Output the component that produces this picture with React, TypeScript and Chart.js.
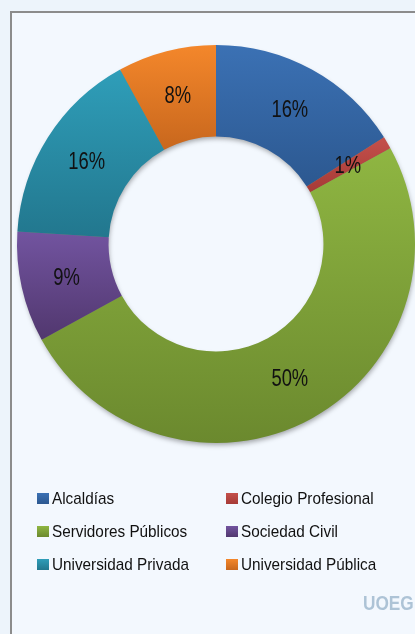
import React, { useEffect, useRef } from "react";
import { Chart, registerables } from "chart.js";

Chart.register(...registerables);

const categories = [
  "Alcaldías",
  "Colegio Profesional",
  "Servidores Públicos",
  "Sociedad Civil",
  "Universidad Privada",
  "Universidad Pública",
];
const shares = [16, 1, 50, 9, 16, 8];
const topColors = ["#3B71B4", "#C4504B", "#8FB642", "#7254A0", "#2F9EB9", "#F4872B"];
const bottomColors = ["#2C5890", "#A63A36", "#6B892E", "#51376E", "#22778E", "#C8671D"];

const W = 415;
const H = 634;
const CUT = 0.54;

function sliceBounds(chart: any, i: number) {
  const a = chart.chartArea;
  const cx = (a.left + a.right) / 2;
  const cy = (a.top + a.bottom) / 2;
  const r = Math.min(a.right - a.left, a.bottom - a.top) / 2;
  const total = shares.reduce((s, v) => s + v, 0);
  let start = 0;
  for (let k = 0; k < i; k++) start += shares[k];
  const s = (start / total) * Math.PI * 2 - Math.PI / 2;
  const e = ((start + shares[i]) / total) * Math.PI * 2 - Math.PI / 2;
  let minY = Infinity;
  let maxY = -Infinity;
  for (let t = 0; t <= 60; t++) {
    const ang = s + ((e - s) * t) / 60;
    for (const rr of [r, r * CUT]) {
      const y = cy + rr * Math.sin(ang);
      minY = Math.min(minY, y);
      maxY = Math.max(maxY, y);
    }
  }
  return { minY, maxY };
}

function sliceFill(chart: any, i: number) {
  if (!chart.chartArea) return topColors[i];
  const { minY, maxY } = sliceBounds(chart, i);
  const g = chart.ctx.createLinearGradient(0, minY, 0, maxY + 0.01);
  g.addColorStop(0, topColors[i]);
  g.addColorStop(1, bottomColors[i]);
  return g;
}

function narrowText(ctx: any, text: string, x: number, y: number, sx: number) {
  ctx.save();
  ctx.translate(x, y);
  ctx.scale(sx, 1);
  ctx.fillText(text, 0, 0);
  ctx.restore();
}

const framePlugin = {
  id: "frame",
  beforeDraw(chart: any) {
    const ctx = chart.ctx;
    ctx.save();
    ctx.fillStyle = "#EDF4FB";
    ctx.fillRect(0, 0, W, H);
    ctx.fillStyle = "#F3F8FE";
    ctx.fillRect(11, 12, W, H);
    ctx.strokeStyle = "#8C8C8C";
    ctx.lineWidth = 2;
    ctx.beginPath();
    ctx.moveTo(11, H + 5);
    ctx.lineTo(11, 12);
    ctx.lineTo(W + 5, 12);
    ctx.stroke();
    ctx.restore();
  },
  beforeDatasetsDraw(chart: any) {
    const a = chart.chartArea;
    const cx = (a.left + a.right) / 2;
    const cy = (a.top + a.bottom) / 2;
    const r = Math.min(a.right - a.left, a.bottom - a.top) / 2;
    const ctx = chart.ctx;
    ctx.save();
    ctx.shadowColor = "rgba(0,0,0,0.35)";
    ctx.shadowBlur = 5;
    ctx.shadowOffsetX = 1;
    ctx.shadowOffsetY = 3;
    ctx.fillStyle = "#7A8A70";
    ctx.beginPath();
    ctx.arc(cx, cy, r - 1, 0, Math.PI * 2);
    ctx.arc(cx, cy, r * CUT + 1, 0, Math.PI * 2, true);
    ctx.fill("evenodd");
    ctx.restore();
  },
  afterDatasetsDraw(chart: any) {
    const ctx = chart.ctx;
    const meta = chart.getDatasetMeta(0);
    const total = shares.reduce((s, v) => s + v, 0);
    ctx.save();
    ctx.font = '23px "Liberation Sans", Arial, sans-serif';
    ctx.fillStyle = "#111111";
    ctx.textAlign = "center";
    ctx.textBaseline = "middle";
    meta.data.forEach((el: any, i: number) => {
      const p = el.getCenterPoint();
      const pct = Math.round((shares[i] / total) * 100) + "%";
      narrowText(ctx, pct, p.x, p.y + 1, 0.8);
    });
    ctx.restore();
  },
  afterDraw(chart: any) {
    const ctx = chart.ctx;
    ctx.save();
    const colX = [37, 226];
    const textX = [52, 241];
    const rowY = [498, 531, 564];
    ctx.font = '17px "Liberation Sans", Arial, sans-serif';
    ctx.textBaseline = "middle";
    ctx.textAlign = "left";
    categories.forEach((name, i) => {
      const col = i % 2;
      const row = Math.floor(i / 2);
      const x = colX[col];
      const y = rowY[row];
      const g = ctx.createLinearGradient(0, y - 5, 0, y + 6);
      g.addColorStop(0, topColors[i]);
      g.addColorStop(1, bottomColors[i]);
      ctx.fillStyle = g;
      ctx.fillRect(x, y - 5, 12, 11);
      ctx.fillStyle = "#111111";
      narrowText(ctx, name, textX[col], y + 1, 0.9);
    });
    // watermark
    ctx.fillStyle = "rgba(150,178,200,0.75)";
    ctx.font = 'bold 21px "Liberation Sans", Arial, sans-serif';
    ctx.textBaseline = "alphabetic";
    narrowText(ctx, "UOEG", 363, 610, 0.82);
    ctx.restore();
  },
};

export default function App() {
  const ref = useRef<HTMLCanvasElement | null>(null);
  useEffect(() => {
    if (!ref.current) return;
    const chart = new Chart(ref.current, {
      type: "doughnut",
      data: {
        labels: categories,
        datasets: [
          {
            data: shares,
            backgroundColor: (c: any) => sliceFill(c.chart, c.dataIndex),
            borderWidth: 0,
            hoverOffset: 0,
          },
        ],
      },
      options: {
        responsive: false,
        animation: false,
        cutout: "54%",
        layout: { padding: { left: 17, right: 0, top: 45, bottom: 191 } },
        plugins: {
          legend: { display: false },
          tooltip: { enabled: false },
        },
        events: [],
      },
      plugins: [framePlugin],
    });
    return () => chart.destroy();
  }, []);
  return (
    <div style={{ position: "fixed", left: 0, top: 0, width: W, height: H, overflow: "hidden" }}>
      <canvas ref={ref} width={W} height={H} style={{ display: "block", width: W, height: H }} />
    </div>
  );
}
